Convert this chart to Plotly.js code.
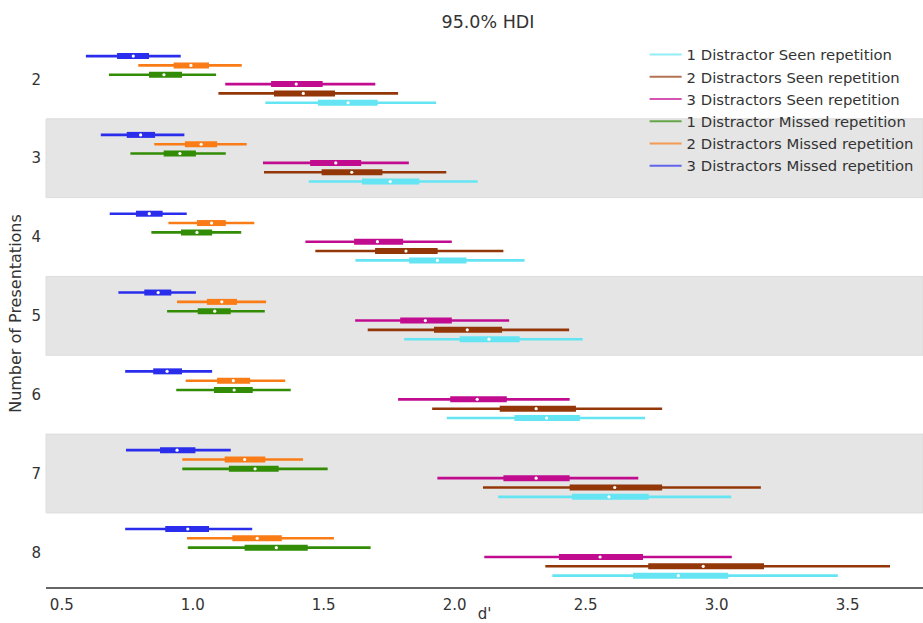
<!DOCTYPE html>
<html>
<head>
<meta charset="utf-8">
<script src="https://cdn.plot.ly/plotly-3.0.1.min.js"></script>
<style>
  html, body { margin: 0; padding: 0; background: #fff; }
  #chart { width: 923px; height: 623px; }
</style>
</head>
<body>
<div id="chart"></div>
<script>
// Groups on the y axis (number of presentations)
const groups = ['2', '3', '4', '5', '6', '7', '8'];

// Series, listed top to bottom within each group
const seriesNames = [
  '3 Distractors Missed repetition',
  '2 Distractors Missed repetition',
  '1 Distractor Missed repetition',
  '3 Distractors Seen repetition',
  '2 Distractors Seen repetition',
  '1 Distractor Seen repetition'
];

// 95% HDI bounds, one row per series, one column per group
const hdiLow = [
  [0.592, 0.649, 0.683, 0.716, 0.742, 0.745, 0.742],
  [0.792, 0.853, 0.907, 0.940, 0.973, 0.960, 0.978],
  [0.680, 0.762, 0.842, 0.902, 0.937, 0.960, 0.981],
  [1.124, 1.268, 1.430, 1.620, 1.784, 1.934, 2.113],
  [1.098, 1.272, 1.468, 1.668, 1.914, 2.108, 2.346],
  [1.277, 1.443, 1.621, 1.807, 1.970, 2.166, 2.373]
];
const hdiHigh = [
  [0.954, 0.968, 0.977, 1.012, 1.074, 1.145, 1.227],
  [1.187, 1.206, 1.235, 1.280, 1.353, 1.421, 1.539],
  [1.089, 1.126, 1.185, 1.275, 1.374, 1.515, 1.679],
  [1.697, 1.825, 1.989, 2.208, 2.439, 2.701, 3.058],
  [1.784, 1.968, 2.186, 2.437, 2.792, 3.169, 3.662],
  [1.929, 2.088, 2.267, 2.489, 2.727, 3.056, 3.463]
];

// Interquartile range
const iqrLow = [
  [0.711, 0.748, 0.783, 0.815, 0.849, 0.875, 0.895],
  [0.927, 0.970, 1.016, 1.054, 1.093, 1.122, 1.151],
  [0.833, 0.889, 0.955, 1.019, 1.081, 1.138, 1.198],
  [1.299, 1.448, 1.616, 1.792, 1.983, 2.186, 2.398],
  [1.310, 1.492, 1.696, 1.921, 2.172, 2.439, 2.739],
  [1.478, 1.646, 1.826, 2.019, 2.228, 2.448, 2.681]
];
const iqrHigh = [
  [0.833, 0.856, 0.885, 0.918, 0.959, 1.010, 1.062],
  [1.062, 1.093, 1.126, 1.169, 1.219, 1.277, 1.340],
  [0.959, 1.012, 1.074, 1.145, 1.229, 1.328, 1.439],
  [1.496, 1.643, 1.803, 1.989, 2.199, 2.439, 2.719],
  [1.543, 1.724, 1.935, 2.181, 2.463, 2.792, 3.181],
  [1.706, 1.865, 2.045, 2.248, 2.478, 2.741, 3.044]
];

// Posterior medians
const median = [
  [0.773, 0.801, 0.834, 0.868, 0.902, 0.940, 0.981],
  [0.993, 1.032, 1.072, 1.111, 1.155, 1.198, 1.246],
  [0.890, 0.951, 1.016, 1.084, 1.158, 1.238, 1.319],
  [1.395, 1.546, 1.705, 1.888, 2.086, 2.311, 2.555],
  [1.422, 1.607, 1.814, 2.048, 2.311, 2.611, 2.949],
  [1.593, 1.754, 1.934, 2.131, 2.351, 2.589, 2.854]
];

const colors = ['#2a2eec', '#fa7c17', '#328c06', '#c10c90', '#933708', '#65e5f3'];
const legendColors = ['rgba(42,46,236,0.7)', 'rgba(250,124,23,0.7)', 'rgba(50,140,6,0.7)',
                      'rgba(193,12,144,0.7)', 'rgba(147,55,8,0.7)', 'rgba(101,229,243,0.7)'];

const rowStep = 0.1184;
const rowY = (g, s) => g + (s - (seriesNames.length - 1) / 2) * rowStep;

const traces = [];
seriesNames.forEach((name, s) => {
  const ox = [], oy = [], ix = [], iy = [], mx = [], my = [];
  groups.forEach((_, g) => {
    const y = rowY(g, s);
    ox.push(hdiLow[s][g], hdiHigh[s][g], null); oy.push(y, y, null);
    ix.push(iqrLow[s][g], iqrHigh[s][g], null); iy.push(y, y, null);
    mx.push(median[s][g]); my.push(y);
  });
  traces.push({ x: ox, y: oy, mode: 'lines', line: { color: colors[s], width: 2.6 },
                showlegend: false, hoverinfo: 'skip' });
  traces.push({ x: ix, y: iy, mode: 'lines', line: { color: colors[s], width: 6 },
                showlegend: false, hoverinfo: 'skip' });
  traces.push({ x: mx, y: my, mode: 'markers', marker: { color: '#ffffff', size: 3.2 },
                showlegend: false, hoverinfo: 'skip' });
  // legend entry
  traces.push({ x: [null], y: [null], mode: 'lines', name: name,
                line: { color: legendColors[s], width: 2 },
                legendrank: seriesNames.length - s, legendgroup: 'g' + s });
});

// alternating background bands
const shapes = [];
groups.forEach((_, g) => {
  if (g % 2 === 1) {
    shapes.push({ type: 'rect', xref: 'paper', x0: 0, x1: 1, yref: 'y',
                  y0: g - 0.5, y1: g + 0.5, fillcolor: '#e5e5e5',
                  line: { width: 1, color: '#dddddd' }, layer: 'below' });
  }
});

const font = { family: 'DejaVu Sans, sans-serif', size: 15, color: '#333333' };

const layout = {
  width: 923, height: 623,
  margin: { l: 46, r: 0, t: 40, b: 36 },
  paper_bgcolor: '#ffffff', plot_bgcolor: 'rgba(0,0,0,0)',
  font: font,
  title: { text: '95.0% HDI', font: { family: font.family, size: 17.5, color: '#333333' },
           x: 0.504, xref: 'paper', xanchor: 'center', y: 0.965, yanchor: 'middle' },
  xaxis: {
    range: [0.4397, 3.788], tickvals: [0.5, 1, 1.5, 2, 2.5, 3, 3.5],
    ticktext: ['0.5', '1.0', '1.5', '2.0', '2.5', '3.0', '3.5'],
    showgrid: false, zeroline: false, showline: true, linecolor: '#666666', linewidth: 1.5,
    ticks: '', ticklabelstandoff: 3, tickfont: font,
    title: { text: "d'", font: font, standoff: 8 }, automargin: false
  },
  yaxis: {
    range: [6.44, -0.5], tickvals: groups.map((_, g) => g), ticktext: groups,
    showgrid: false, zeroline: false, showline: false,
    ticks: '', ticklabelstandoff: 4, tickfont: font,
    title: { text: 'Number of Presentations', font: { family: font.family, size: 16, color: '#333333' },
             standoff: 5 }, automargin: false
  },
  legend: { x: 0.995, xanchor: 'right', y: 1.003, yanchor: 'top', bgcolor: 'rgba(0,0,0,0)',
            font: { family: font.family, size: 14.8, color: '#333333' }, itemwidth: 32,
            traceorder: 'normal' },
  shapes: shapes
};

Plotly.newPlot('chart', traces, layout, { displayModeBar: false, staticPlot: true });
</script>
</body>
</html>
